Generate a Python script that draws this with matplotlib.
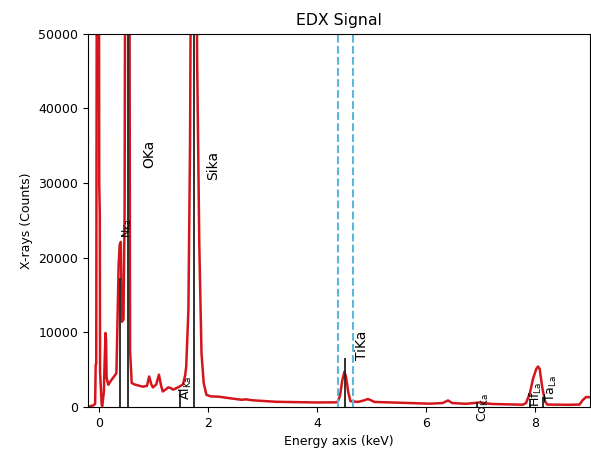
import matplotlib
matplotlib.use("Agg")
import matplotlib.pyplot as plt
import numpy as np

# spectrum (keV, counts)
energy = [-0.20, -0.10, -0.07, -0.06, -0.05, -0.04, 0.00, 0.005, 0.015, 0.02, 0.05, 0.06,
          0.09, 0.10, 0.12, 0.13, 0.14, 0.17, 0.20, 0.25, 0.30, 0.32, 0.34, 0.36, 0.38, 0.40,
          0.42, 0.45, 0.47, 0.48, 0.56, 0.57, 0.60, 0.65, 0.80, 0.88, 0.92, 0.96, 0.99, 1.05,
          1.10, 1.14, 1.17, 1.22, 1.27, 1.32, 1.36, 1.45, 1.54, 1.58, 1.60, 1.64, 1.67, 1.685,
          1.79, 1.80, 1.84, 1.88, 1.92, 1.97, 2.05, 2.20, 2.61, 2.70, 2.80, 3.25, 3.99, 4.35,
          4.38, 4.42, 4.46, 4.50, 4.53, 4.57, 4.61, 4.75, 4.88, 4.93, 4.98, 5.05, 5.50, 6.06,
          6.30, 6.40, 6.48, 6.73, 6.98, 7.20, 7.77, 7.83, 7.90, 7.96, 8.02, 8.05, 8.08, 8.13,
          8.18, 8.22, 8.60, 8.81, 8.87, 8.93, 9.05]
counts = [0, 200, 400, 5600, 5800, 60000, 60000, 29800, 26000, 4700, 300, 100,
          2000, 5000, 9900, 9000, 3900, 2950, 3300, 3800, 4300, 4500, 11700, 19000, 21700, 22100,
          11400, 11700, 26100, 60000, 60000, 7600, 3200, 3000, 2700, 2800, 4060, 3000, 2600, 3000,
          4300, 2800, 2060, 2300, 2600, 2500, 2300, 2600, 3000, 4200, 5400, 13000, 35300, 60000,
          60000, 46500, 21500, 7200, 3200, 1600, 1400, 1350, 940, 1000, 880, 670, 580, 600,
          700, 1500, 3500, 4700, 4000, 2000, 750, 650, 900, 1050, 900, 650, 550, 420,
          500, 850, 500, 400, 580, 380, 280, 500, 1800, 3800, 5100, 5400, 5100, 2500,
          700, 300, 270, 300, 900, 1300, 1300]

# x-ray line markers
line_energy = [0.392, 0.525, 1.486, 1.740, 4.511, 6.930, 7.899, 8.146]
line_top = [17300, 60000, 2300, 60000, 6560, 700, 940, 1380]
labels = ["N$_{\\mathrm{Ka}}$", "OKa", "Al$_{\\mathrm{Ka}}$", "Sika", "TiKa",
          "Co$_{\\mathrm{Ka}}$", "Hf$_{\\mathrm{La}}$", "Ta$_{\\mathrm{La}}$"]
label_x = [0.51, 0.93, 1.59, 2.09, 4.82, 7.05, 8.02, 8.29]
label_y = [22600, 32000, 940, 30400, 6300, -2000, 0, 670]
label_size = [8, 10, 9, 10, 10, 9, 9, 9]

# background windows
windows = [4.385, 4.66]

fig = plt.figure(figsize=(5.91, 4.5), dpi=100)
ax = fig.add_axes([0.149, 0.096, 0.849, 0.829])

ax.plot(energy, counts, color="#d4161c", lw=1.8)
ax.vlines(line_energy, 0, line_top, color="#222222", lw=1.3)
for t, x, y, s in zip(labels, label_x, label_y, label_size):
    ax.text(x, y, t, rotation=90, ha="center", va="bottom", fontsize=s, clip_on=False)
for w in windows:
    ax.axvline(w, color="#5bb8d6", ls="--", lw=1.5)

ax.set_xlim(-0.2, 9.0)
ax.set_ylim(0, 50000)
ax.set_xticks([0, 2, 4, 6, 8])
ax.set_yticks([0, 10000, 20000, 30000, 40000, 50000])
ax.tick_params(labelsize=9)
ax.set_xlabel("Energy axis (keV)", fontsize=9)
ax.set_ylabel("X-rays (Counts)", fontsize=9)
ax.set_title("EDX Signal", fontsize=11.3)

fig.savefig("out.png")
